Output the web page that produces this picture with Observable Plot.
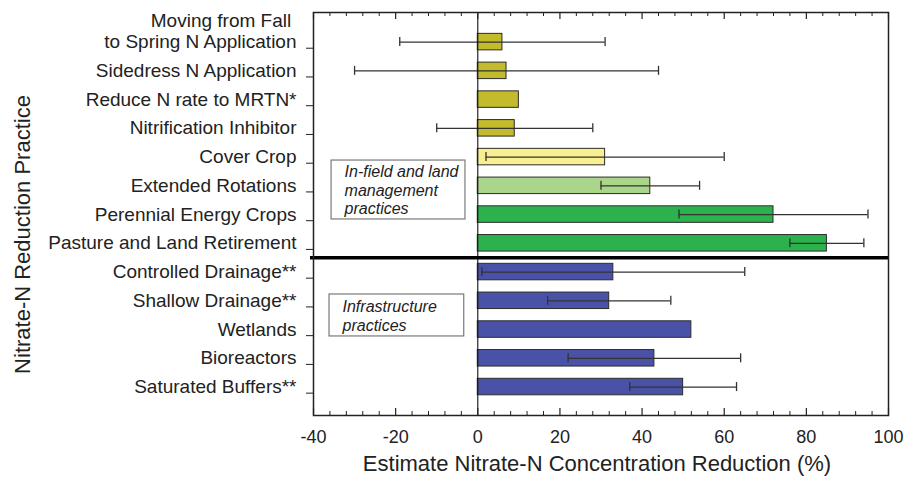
<!DOCTYPE html>
<html>
<head>
<meta charset="utf-8">
<script src="https://cdn.jsdelivr.net/npm/d3@7"></script>
<script src="https://cdn.jsdelivr.net/npm/@observablehq/plot@0.6"></script>
<style>
  html, body { margin: 0; padding: 0; background: #ffffff; }
</style>
</head>
<body>
<div id="chart"></div>
<script>
// ---------- data ----------
const practices = [
  "Moving from Fall\u00a0\nto Spring N Application",
  "Sidedress N Application",
  "Reduce N rate to MRTN*",
  "Nitrification Inhibitor",
  "Cover Crop",
  "Extended Rotations",
  "Perennial Energy Crops",
  "Pasture and Land Retirement",
  "Controlled Drainage**",
  "Shallow Drainage**",
  "Wetlands",
  "Bioreactors",
  "Saturated Buffers**"
];
const reduction = [6, 7, 10, 9, 31, 42, 72, 85, 33, 32, 52, 43, 50];
const errLow    = [-19, -30, null, -10, 2, 30, 49, 76, 1, 17, null, 22, 37];
const errHigh   = [31, 44, null, 28, 60, 54, 95, 94, 65, 47, null, 64, 63];
const groups    = ["rate", "rate", "rate", "rate", "cover", "rotation", "perennial", "perennial",
                   "infra", "infra", "infra", "infra", "infra"];
const groupNames  = ["rate", "cover", "rotation", "perennial", "infra"];
const groupColors = ["#c3bb2b", "#f7ef90", "#a9d68b", "#2cb24c", "#4a52a7"];

const xTicks      = [-40, -20, 0, 20, 40, 60, 80, 100];
const xMinorTicks = [-36, -32, -28, -24, -16, -12, -8, -4, 4, 8, 12, 16, 24, 28, 32, 36,
                     44, 48, 52, 56, 64, 68, 72, 76, 84, 88, 92, 96];

const noteTexts = ["In-field and land\nmanagement\npractices", "Infrastructure\npractices"];
const noteX1 = [-35.6, -36.1];
const noteX2 = [-3.0, -3.3];
const noteY1 = [4.12, 8.78];
const noteY2 = [6.17, 10.24];

const sectionBreak = [7.5];   // between the two practice groups

const xTitle = "Estimate Nitrate-N Concentration Reduction (%)";
const yTitle = "Nitrate-N Reduction Practice";

// ---------- tables ----------
const rows = practices.map((p, i) => ({
  i, practice: p, value: reduction[i], lo: errLow[i], hi: errHigh[i], group: groups[i]
}));
const errRows = rows.filter(d => d.lo != null);
const notes = noteTexts.map((t, k) => ({
  text: t, x1: noteX1[k], x2: noteX2[k], y1: noteY1[k], y2: noteY2[k]
}));

const BAR = 0.287;   // half bar thickness (in row units)
const CAP = 0.157;   // half cap length (in row units)
const font = "'Liberation Sans', Arial, Helvetica, sans-serif";

const plotH = 485 - 12 - 70;

const chart = Plot.plot({
  width: 915,
  height: 485,
  marginLeft: 313,
  marginRight: 27,
  marginTop: 12,
  marginBottom: 70,
  style: { fontFamily: font, background: "#ffffff", color: "#222" },
  x: { domain: [-40, 100] },
  y: { domain: [12.99, -1.03] },
  color: { domain: groupNames, range: groupColors },
  marks: [
    // bars
    Plot.rectX(rows, {
      x1: 0, x2: "value",
      y1: d => d.i - BAR, y2: d => d.i + BAR,
      fill: "group", stroke: "#2b2b2b", strokeWidth: 1
    }),
    // error bars
    Plot.ruleY(errRows, { y: "i", x1: "lo", x2: "hi", stroke: "#333", strokeWidth: 1.3 }),
    Plot.ruleX(errRows, { x: "lo", y1: d => d.i - CAP, y2: d => d.i + CAP, stroke: "#333", strokeWidth: 1.3 }),
    Plot.ruleX(errRows, { x: "hi", y1: d => d.i - CAP, y2: d => d.i + CAP, stroke: "#333", strokeWidth: 1.3 }),
    // zero line
    Plot.ruleX([0], { stroke: "#111", strokeWidth: 1.1 }),
    // group separator
    Plot.ruleY(sectionBreak, { stroke: "#000", strokeWidth: 3.5, insetLeft: -3 }),
    // annotation boxes
    Plot.rect(notes, { x1: "x1", x2: "x2", y1: "y1", y2: "y2", fill: "#fff", stroke: "#7a7a7a", strokeWidth: 1.2 }),
    Plot.text(notes, {
      x: "x1", y: d => (d.y1 + d.y2) / 2, text: "text",
      textAnchor: "start", dx: 13, fontStyle: "italic", fontSize: 16,
      lineHeight: 1.16, fill: "#222"
    }),
    // frame
    Plot.frame({ stroke: "#222", strokeWidth: 1.5 }),
    // inward x ticks (bottom & top)
    Plot.ruleX(xTicks,      { x: d => d, insetTop: plotH - 7, stroke: "#222", strokeWidth: 1.2 }),
    Plot.ruleX(xTicks,      { x: d => d, insetBottom: plotH - 7, stroke: "#222", strokeWidth: 1.2 }),
    Plot.ruleX(xMinorTicks, { x: d => d, insetTop: plotH - 4, stroke: "#222", strokeWidth: 1 }),
    Plot.ruleX(xMinorTicks, { x: d => d, insetBottom: plotH - 4, stroke: "#222", strokeWidth: 1 }),
    // axes
    Plot.axisX({
      ticks: xTicks, tickSize: 0, tickPadding: 15, fontSize: 18,
      tickFormat: d => String(d), label: null, fill: "#222"
    }),
    Plot.axisY({
      ticks: practices.map((_, i) => i), tickSize: 7, tickPadding: 10,
      tickFormat: i => practices[i], fontSize: 19, lineAnchor: "bottom",
      lineHeight: 1.1, dy: 6.1, label: null, stroke: "#222", fill: "#222"
    }),
    // titles
    Plot.text([xTitle], { frameAnchor: "bottom", textAnchor: "middle", dx: -4, dy: 55, fontSize: 22, fill: "#222" }),
    Plot.text([yTitle], { frameAnchor: "left", textAnchor: "middle", rotate: -90, dx: -291, dy: 20.5, fontSize: 22, fill: "#222" })
  ]
});

document.getElementById("chart").appendChild(chart);
</script>
</body>
</html>
